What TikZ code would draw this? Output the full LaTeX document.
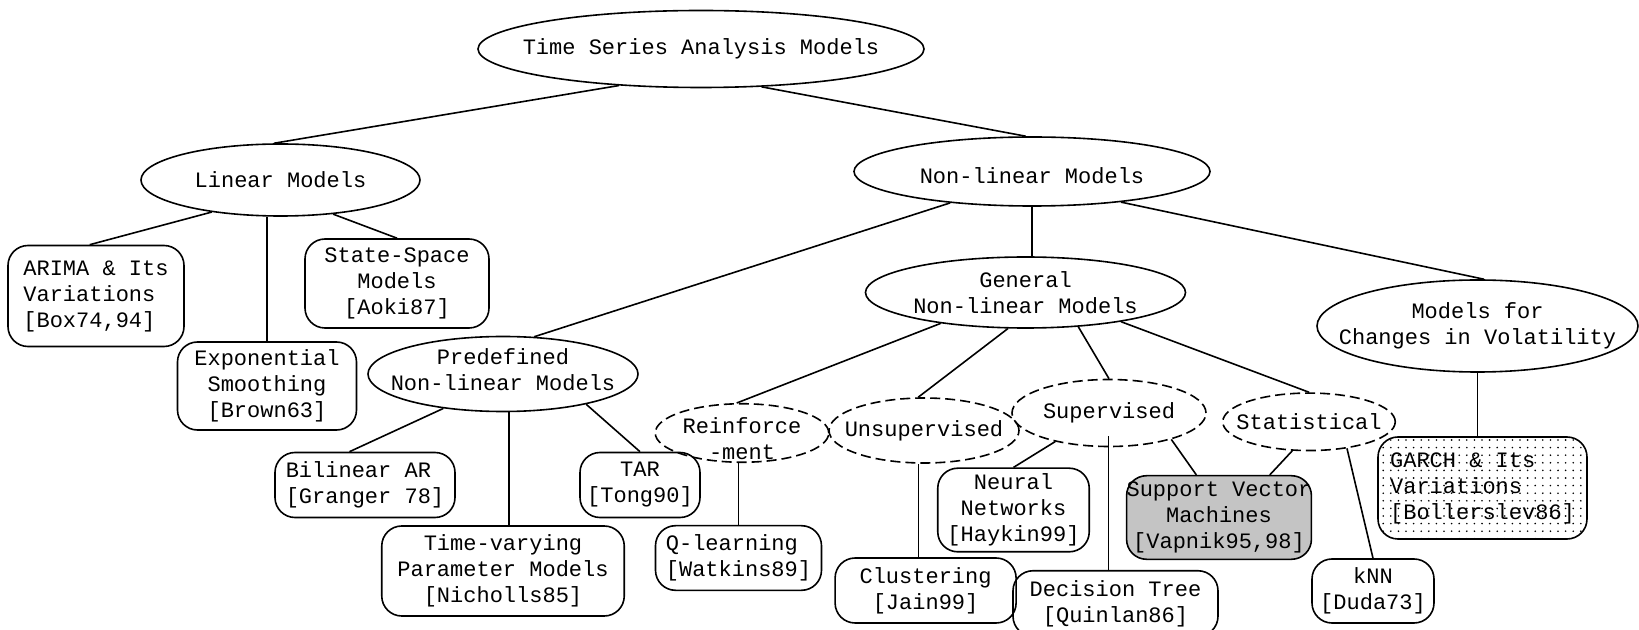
\documentclass[tikz,border=0pt]{standalone}
\usepackage{fontspec}
\setmonofont{Liberation Mono}
\usetikzlibrary{shapes.geometric,calc,patterns.meta}
\begin{document}
\begin{tikzpicture}[x=0.5pt,y=-0.5pt,
  every node/.style={font=\ttfamily\fontsize{11}{13}\selectfont, inner sep=0pt},
  sz/.style 2 args={minimum width={#1*0.5pt}, minimum height={#2*0.5pt}},
  ell/.style={ellipse, draw, line width=0.8pt},
  dell/.style={ell, dash pattern=on 5pt off 2.5pt},
  rbox/.style={rectangle, rounded corners=10pt, draw, line width=0.8pt, align=center},
  lbox/.style={rbox, align=left},
  conn/.style={line width=0.8pt}]
\useasboundingbox (0,0) rectangle (1639,630);

% ellipses
\node[ell, sz={446}{77}, label={[align=center]center:Time Series Analysis Models}] (root) at (701,49) {};
\node[ell, sz={279}{72}, label={[align=center]center:Linear Models}] (lin) at (280.5,180) {};
\node[ell, sz={356}{69}, label={[align=center,yshift=-2pt]center:Non-linear Models}] (nl) at (1032,171.5) {};
\node[ell, sz={270}{75}, label={[align=center,yshift=2pt]center:Predefined\\Non-linear Models}] (pre) at (503,374) {};
\node[ell, sz={320}{71}, label={[align=center]center:General\\Non-linear Models}] (gen) at (1025.5,292.5) {};
\node[ell, sz={321}{92}, label={[align=center]center:Models for\\Changes in Volatility}] (chg) at (1477.5,326) {};
\node[dell, sz={173.5}{58.5}, label={[align=center,yshift=-3pt]center:Reinforce\\-ment}] (rein) at (742,433) {};
\node[dell, sz={190}{65}, label={[align=center]center:Unsupervised}] (uns) at (924,430.5) {};
\node[dell, sz={194}{67}, label={[align=center]center:Supervised}] (sup) at (1109,413) {};
\node[dell, sz={172.5}{57.5}, label={[align=center]center:Statistical}] (stat) at (1309,421.8) {};

% boxes
\node[lbox, sz={176}{101}] (arima) at (96,296) {ARIMA \& Its\\Variations\\{[Box74,94]}};
\node[rbox, sz={179}{88}] (exp) at (267,386) {Exponential\\Smoothing\\{[Brown63]}};
\node[rbox, sz={184}{89}] (ss) at (397,283.5) {State-Space\\Models\\{[Aoki87]}};
\node[lbox, sz={180}{65}] (bil) at (365,485) {Bilinear AR\\{[Granger 78]}};
\node[rbox, sz={120}{65}] (tar) at (640,485) {TAR\\{[Tong90]}};
\node[rbox, sz={242.5}{90}] (tv) at (503,571) {Time-varying\\Parameter Models\\{[Nicholls85]}};
\node[lbox, sz={166}{64.6}] (q) at (738.5,558) {Q-learning\\{[Watkins89]}};
\node[rbox, sz={151.5}{83.6}] (nn) at (1013.5,510) {Neural\\Networks\\{[Haykin99]}};
\node[rbox, sz={181}{65}] (clu) at (925.6,590.5) {Clustering\\{[Jain99]}};
\node[rbox, sz={205}{65.5}] (dt) at (1115.5,603.5) {Decision Tree\\{[Quinlan86]}};
\node[rbox, sz={182}{83.6}, pattern={Dots[distance=1pt, radius=0.32pt]}] (svm) at (1219,517.5) {Support Vector\\Machines\\{[Vapnik95,98]}};
\node[rbox, sz={122}{64}] (knn) at (1373,591) {kNN\\{[Duda73]}};
\node[lbox, sz={209}{102}, pattern={Dots[distance=3.8pt, radius=0.45pt]}] (garch) at (1482.5,488) {GARCH \& Its\\Variations\\{[Bollerslev86]}};

% connectors
\draw[conn] (root.204) -- (lin.100);
\draw[conn] (root.328) -- (nl.100);
\draw[conn] (lin.205) -- (arima.97);
\draw[conn] (exp.north) -- (exp.north |- lin.south);
\draw[conn] (lin.327) -- (ss.north);
\draw[conn] (nl.201) -- (pre.50);
\draw[conn] (nl.south) -- (nl.south |- gen.north);
\draw[conn] (nl.341) -- (chg.82);
\draw[conn] (pre.210) -- (bil.115);
\coordinate (tvTop) at ($(tv.north)+(6,0)$);
\draw[conn] (tvTop) -- (tvTop |- pre.south);
\draw[conn] (pre.340) -- (tar.north);
\draw[conn] (gen.200) -- (rein.100);
\draw[conn] (gen.244) -- (uns.100);
\draw[conn] (gen.327) -- (sup.north);
\draw[conn] (gen.343) -- (stat.north);
\draw[conn] (q.north) -- (q.north |- rein.south);
\coordinate (cluTop) at ($(clu.north)+(-7,0)$);
\draw[conn] (cluTop) -- (cluTop |- uns.south);
\draw[conn] (sup.208) -- (nn.north);
\coordinate (dtTop) at ($(dt.north)+(-7,0)$);
\coordinate (supIn) at ($(dtTop |- sup.south)+(0,-11)$);
\draw[conn] (dtTop) -- (supIn);
\draw[conn] (sup.337) -- (svm.118);
\draw[conn] (stat.240) -- (svm.40);
\draw[conn] (stat.325) -- (knn.north);
\draw[conn] (chg.south) -- (chg.south |- garch.north);
\end{tikzpicture}
\end{document}
